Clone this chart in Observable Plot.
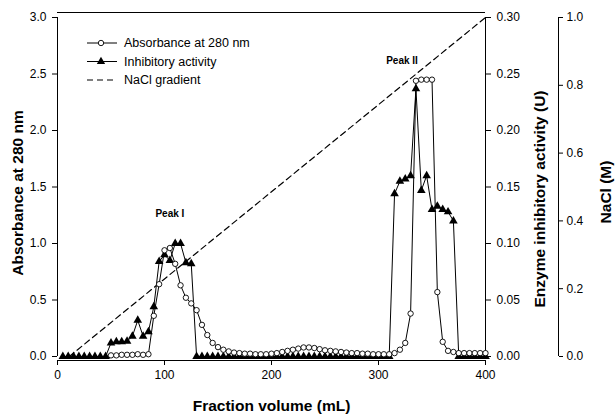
<!DOCTYPE html>
<html><head><meta charset="utf-8">
<script src="https://cdn.jsdelivr.net/npm/d3@7"></script>
<script src="https://cdn.jsdelivr.net/npm/@observablehq/plot@0.6"></script>
<style>body{margin:0;background:#fff}</style>
</head><body><div id="chart"></div>
<script>
// Absorbance at 280 nm (open circles)
const absVolume = [50,55,60,65,70,75,80,85,90,95,100,105,110,115,120,125,130,135,140,145,150,155,160,165,170,175,180,185,190,195,200,205,210,215,220,225,230,235,240,245,250,255,260,265,270,275,280,285,290,295,300,305,310,315,320,325,330,335,340,345,350,355,360,365,370,375,380,385,390,395,400];
const absorbance = [0.01,0.01,0.015,0.015,0.015,0.02,0.015,0.02,0.36,0.64,0.94,0.96,0.82,0.63,0.52,0.47,0.41,0.28,0.19,0.12,0.083,0.06,0.045,0.035,0.03,0.025,0.025,0.02,0.02,0.02,0.025,0.03,0.04,0.05,0.06,0.07,0.08,0.08,0.075,0.065,0.055,0.05,0.045,0.04,0.035,0.03,0.03,0.025,0.025,0.02,0.02,0.02,0.02,0.03,0.06,0.12,0.38,2.44,2.45,2.45,2.45,0.57,0.13,0.05,0.04,0.03,0.03,0.03,0.03,0.03,0.03];

// Enzyme inhibitory activity, U (filled triangles)
const actVolume = [5,10,15,20,25,30,35,40,45,50,55,60,65,70,75,80,85,90,95,100,105,110,115,120,125,130,135,140,145,150,155,160,165,170,175,180,185,190,195,200,205,210,215,220,225,230,235,240,245,250,255,260,265,270,275,280,285,290,295,300,305,310,315,320,325,330,335,340,345,350,355,360,365,370,375,380,385,390,395,400];
const activity = [0,0,0,0,0,0,0,0,0,0.012,0.013,0.013,0.0135,0.018,0.032,0.018,0.022,0.044,0.084,0.090,0.085,0.100,0.100,0.083,0.082,0,0,0,0,0,0,0,0,0,0,0,0,0,0,0,0,0,0,0,0,0,0,0,0,0,0,0,0,0,0,0,0,0,0,0,0,0,0.144,0.155,0.157,0.160,0.237,0.147,0.160,0.130,0.133,0.130,0.128,0.120,0,0,0,0,0,0];

// NaCl gradient, M (dashed)
const naclVolume = [11, 400];
const nacl = [0, 1.0];

// Ticks
const xTicks = [0,100,200,300,400];
const absTicks = [0,0.5,1.0,1.5,2.0,2.5,3.0];
const actTicks = [0,0.05,0.10,0.15,0.20,0.25,0.30];
const naclTicks = [0,0.2,0.4,0.6,0.8,1.0];

// Annotations
const peakLabels = ["Peak I", "Peak II"];
const peakX = [105, 322];
const peakY = [1.26, 2.62];

const absData = absVolume.map((v,i)=>({v, a: absorbance[i]}));
const actData = actVolume.map((v,i)=>({v, a: activity[i]*10}));
const naclData = naclVolume.map((v,i)=>({v, a: nacl[i]*3}));
const peaks = peakLabels.map((t,i)=>({t, x: peakX[i], y: peakY[i]}));

const chart = Plot.plot({
  width: 615, height: 417,
  marginLeft: 57, marginRight: 130, marginTop: 17, marginBottom: 61,
  x: {domain: [0,400]},
  y: {domain: [0,3]},
  style: {fontFamily: "'Liberation Sans', Arial, sans-serif", fontSize: "12px", background: "#fff", color: "#000"},
  marks: [
    Plot.ruleY([3], {dy: -5, stroke: "#000", strokeWidth: 1}),
    Plot.ruleX([0], {stroke: "#000", strokeWidth: 1}),
    Plot.ruleX([400], {stroke: "#000", strokeWidth: 1}),
    Plot.ruleX([400], {dx: 73, stroke: "#000", strokeWidth: 1}),
    Plot.ruleY([0], {dy: 4, stroke: "#000", strokeWidth: 1}),
    Plot.axisX({ticks: xTicks, tickSize: 5, dy: 4, tickPadding: 5, label: null, fontSize: 12}),
    Plot.axisY({anchor: "left", ticks: absTicks, tickFormat: d3.format(".1f"), tickSize: 5, tickPadding: 6, label: null, fontSize: 12}),
    Plot.axisY({anchor: "right", ticks: actTicks.map(t=>t*10), tickFormat: d => (d/10).toFixed(2), tickSize: 5, tickPadding: 6, label: null, fontSize: 12}),
    Plot.axisY({anchor: "right", dx: 73, ticks: naclTicks.map(t=>t*3), tickFormat: d => (d/3).toFixed(1), tickSize: 4, tickPadding: 4, label: null, fontSize: 12}),
    Plot.line(naclData, {x: "v", y: "a", stroke: "#000", strokeWidth: 1.2, strokeDasharray: "6,4"}),
    Plot.line(actData, {x: "v", y: "a", stroke: "#000", strokeWidth: 1}),
    Plot.line(absData, {x: "v", y: "a", stroke: "#000", strokeWidth: 1}),
    Plot.dot(actData, {x: "v", y: "a", symbol: "triangle", r: 3.2, fill: "#000", stroke: "none"}),
    Plot.dot(absData, {x: "v", y: "a", r: 2.7, fill: "#fff", stroke: "#000", strokeWidth: 0.9}),
    Plot.text(peaks, {x: "x", y: "y", text: "t", fontWeight: "bold", fontSize: 10}),
    Plot.text(["Absorbance at 280 nm"], {frameAnchor: "left", dx: -39.5, dy: 6, rotate: -90, textAnchor: "middle", lineAnchor: "middle", fontWeight: "bold", fontSize: 15.5}),
    Plot.text(["Enzyme inhibitory activity (U)"], {frameAnchor: "right", dx: 55, dy: 12, rotate: -90, textAnchor: "middle", lineAnchor: "middle", fontWeight: "bold", fontSize: 15.5}),
    Plot.text(["NaCl (M)"], {frameAnchor: "right", dx: 121, dy: 5, rotate: -90, textAnchor: "middle", lineAnchor: "middle", fontWeight: "bold", fontSize: 15.5}),
    Plot.text(["Fraction volume (mL)"], {frameAnchor: "bottom", dy: 50, textAnchor: "middle", lineAnchor: "middle", fontWeight: "bold", fontSize: 15.5})
  ]
});
document.getElementById("chart").appendChild(chart);

// Legend
const svg = d3.select(chart);
const lg = svg.append("g").attr("font-family", "'Liberation Sans', Arial, sans-serif").attr("font-size", 12.5).attr("text-anchor", "start");
const items = [
  {label: "Absorbance at 280 nm", kind: "circle"},
  {label: "Inhibitory activity", kind: "triangle"},
  {label: "NaCl gradient", kind: "dash"}
];
items.forEach((it, i) => {
  const y = 43 + i * 18.5;
  lg.append("line").attr("x1", 87).attr("x2", 117).attr("y1", y).attr("y2", y)
    .attr("stroke", "#000").attr("stroke-width", it.kind === "dash" ? 1.2 : 1)
    .attr("stroke-dasharray", it.kind === "dash" ? "6,4" : null);
  if (it.kind === "circle") lg.append("circle").attr("cx", 101).attr("cy", y).attr("r", 2.7).attr("fill", "#fff").attr("stroke", "#000").attr("stroke-width", 0.9);
  if (it.kind === "triangle") lg.append("path").attr("d", d3.symbol(d3.symbolTriangle, 30)()).attr("transform", `translate(101,${y})`).attr("fill", "#000");
  lg.append("text").attr("x", 124).attr("y", y).attr("dy", "0.35em").attr("text-anchor", "start").text(it.label);
});
</script>
</body></html>
